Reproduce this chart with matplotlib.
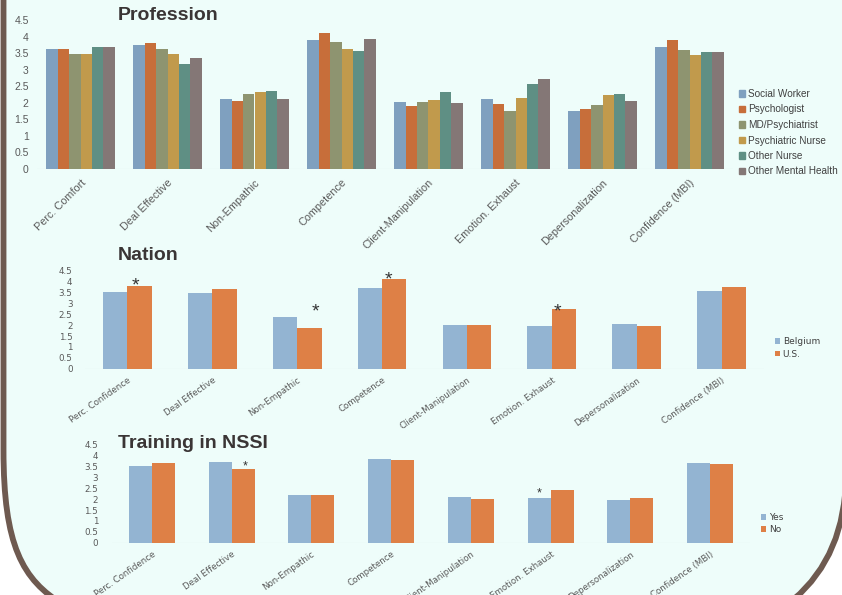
import matplotlib
matplotlib.use("Agg")
import matplotlib.pyplot as plt
from matplotlib.patches import Patch, PathPatch
from matplotlib.path import Path
import numpy as np

# ---------------- data ----------------
prof_categories = ["Perc. Comfort", "Deal Effective", "Non-Empathic", "Competence",
                   "Client-Manipulation", "Emotion. Exhaust", "Depersonalization",
                   "Confidence (MBI)"]
prof_series = ["Social Worker", "Psychologist", "MD/Psychiatrist",
               "Psychiatric Nurse", "Other Nurse", "Other Mental Health"]
social_worker = [3.61, 3.74, 2.11, 3.89, 2.03, 2.11, 1.74, 3.67]
psychologist = [3.63, 3.80, 2.05, 4.12, 1.89, 1.97, 1.80, 3.91]
md_psychiatrist = [3.46, 3.62, 2.26, 3.85, 2.03, 1.75, 1.92, 3.60]
psychiatric_nurse = [3.46, 3.48, 2.33, 3.61, 2.07, 2.15, 2.25, 3.45]
other_nurse = [3.69, 3.18, 2.35, 3.55, 2.32, 2.57, 2.28, 3.52]
other_mental_health = [3.67, 3.35, 2.11, 3.94, 1.99, 2.72, 2.06, 3.52]

grp_categories = ["Perc. Confidence", "Deal Effective", "Non-Empathic", "Competence",
                  "Client-Manipulation", "Emotion. Exhaust", "Depersonalization",
                  "Confidence (MBI)"]
belgium = [3.50, 3.47, 2.37, 3.69, 1.99, 1.96, 2.04, 3.58]
us = [3.79, 3.66, 1.88, 4.11, 2.02, 2.75, 1.94, 3.73]
training_yes = [3.55, 3.73, 2.20, 3.87, 2.09, 2.08, 1.95, 3.69]
training_no = [3.67, 3.38, 2.20, 3.81, 2.03, 2.41, 2.06, 3.61]

yticks = [0, 0.5, 1, 1.5, 2, 2.5, 3, 3.5, 4, 4.5]
ytick_labels = ["0", "0.5", "1", "1.5", "2", "2.5", "3", "3.5", "4", "4.5"]

# significance markers: (category index, x offset in category units, y value)
nation_stars = [(0, 0.09, 3.82), (2, 0.21, 2.62), (3, 0.07, 4.09), (5, 0.07, 2.62)]
training_stars = [(1, 0.17, 3.52), (5, -0.14, 2.25)]

# ---------------- style ----------------
W, H = 842, 595
bg = "#EEFDFA"
border = "#6E5A50"
prof_colors = ["#7FA0BF", "#C76E3A", "#8E9470", "#C19A4C", "#5F8F84", "#847776"]
c_blue = "#93B4D2"
c_orange = "#DE8046"
tick_col = "#595959"
title_col = "#3A3535"

fig = plt.figure(figsize=(W / 100, H / 100), dpi=100, facecolor="white")

# background shape with brown border
bgax = fig.add_axes([0, 0, 1, 1], zorder=-5)
bgax.set_xlim(0, W)
bgax.set_ylim(H, 0)
bgax.axis("off")
verts = [(3.5, -5), (3.5, 450), (3.5, 545), (22, 580), (64, 605),
         (780, 610), (838, 570), (845, 495), (850, -5), (3.5, -5)]
codes = [Path.MOVETO, Path.LINETO, Path.CURVE4, Path.CURVE4, Path.CURVE4,
         Path.LINETO, Path.CURVE3, Path.CURVE3, Path.LINETO, Path.CLOSEPOLY]
bgax.add_patch(PathPatch(Path(verts, codes), facecolor=bg, edgecolor="none"))
left_edge = Path([(3.5, -5), (3.5, 450), (3.5, 545), (22, 580), (64, 605)],
                 [Path.MOVETO, Path.LINETO, Path.CURVE4, Path.CURVE4, Path.CURVE4])
right_edge = Path([(780, 610), (838, 570), (845, 495)],
                  [Path.MOVETO, Path.CURVE3, Path.CURVE3])
for p in (left_edge, right_edge):
    bgax.add_patch(PathPatch(p, facecolor="none", edgecolor=border, lw=4.2,
                             capstyle="butt"))


def px_axes(left, top, right, bottom):
    ax = fig.add_axes([left / W, 1 - bottom / H, (right - left) / W, (bottom - top) / H])
    ax.set_facecolor("none")
    for s in ax.spines.values():
        s.set_visible(False)
    ax.set_ylim(0, 4.5)
    ax.set_xlim(-0.5, 7.5)
    ax.set_yticks(yticks)
    ax.axhline(0, color="#D9D9D9", lw=0.8, zorder=1)
    ax.tick_params(length=0)
    return ax


# ---------------- Profession ----------------
ax1 = px_axes(37, 20, 733, 169)
x = np.arange(len(prof_categories))
series = [social_worker, psychologist, md_psychiatrist, psychiatric_nurse,
          other_nurse, other_mental_health]
w = 0.79 / 6
for i, (vals, col, name) in enumerate(zip(series, prof_colors, prof_series)):
    ax1.bar(x + (i - 2.5) * w, vals, w, color=col, label=name, zorder=2)
ax1.set_yticklabels(ytick_labels, fontsize=7.5, color=tick_col, family="Liberation Sans")
ax1.tick_params(axis="y", pad=6)
ax1.set_xticks(x)
ax1.set_xticklabels(prof_categories, rotation=45, ha="right", va="top",
                    rotation_mode="anchor", fontsize=7.8, color=tick_col,
                    family="Liberation Sans")
ax1.tick_params(axis="x", pad=6)
handles = [Patch(color=c) for c in prof_colors]
ax1.legend(handles, prof_series, loc="upper left", bbox_to_anchor=(739 / W, 1 - 89 / H),
           bbox_transform=fig.transFigure, frameon=False,
           handlelength=0.58, handleheight=0.58, handletextpad=0.3, labelspacing=0.55,
           borderaxespad=0, borderpad=0,
           prop={"family": "Liberation Sans", "size": 7.2}, labelcolor="#404040")
fig.text(118 / W, 1 - 16 / H, "Profession", fontsize=14, fontweight="bold",
         family="Liberation Sans", color=title_col, va="center", ha="left")


def two_panel(ax, a, b, labels, stars, star_size, ylabel_pad, rot):
    xx = np.arange(len(grp_categories))
    bw = 0.287
    ax.bar(xx - bw / 2, a, bw, color=c_blue, label=labels[0], zorder=2)
    ax.bar(xx + bw / 2, b, bw, color=c_orange, label=labels[1], zorder=2)
    ax.set_yticklabels(ytick_labels, fontsize=6.3, color=tick_col, family="DejaVu Sans")
    ax.tick_params(axis="y", pad=ylabel_pad)
    ax.set_xticks(xx)
    ax.set_xticklabels(grp_categories, rotation=rot, ha="right", va="top",
                       rotation_mode="anchor", fontsize=6.2, color=tick_col,
                       family="DejaVu Sans")
    ax.tick_params(axis="x", pad=5)
    for ci, dx, yv in stars:
        ax.text(ci + dx, yv, "*", fontsize=star_size, ha="center", va="center",
                color="#333333", family="Liberation Sans", zorder=3)


# ---------------- Nation ----------------
ax2 = px_axes(85, 270.7, 764, 368.7)
two_panel(ax2, belgium, us, ["Belgium", "U.S."], nation_stars, 14, 9, 35)
ax2.legend(loc="upper left", bbox_to_anchor=(775 / W, 1 - 337 / H),
           bbox_transform=fig.transFigure, frameon=False,
           handlelength=0.55, handleheight=0.55, handletextpad=0.3, labelspacing=0.4,
           borderaxespad=0, borderpad=0,
           prop={"family": "DejaVu Sans", "size": 6.5}, labelcolor="#404040")
fig.text(118 / W, 1 - 256 / H, "Nation", fontsize=14, fontweight="bold",
         family="Liberation Sans", color=title_col, va="center", ha="left")

# ---------------- Training in NSSI ----------------
ax3 = px_axes(112, 445, 750, 542.7)
two_panel(ax3, training_yes, training_no, ["Yes", "No"], training_stars, 9, 10, 35)
ax3.legend(loc="upper left", bbox_to_anchor=(761 / W, 1 - 513 / H),
           bbox_transform=fig.transFigure, frameon=False,
           handlelength=0.55, handleheight=0.55, handletextpad=0.3, labelspacing=0.35,
           borderaxespad=0, borderpad=0,
           prop={"family": "DejaVu Sans", "size": 6.5}, labelcolor="#404040")
fig.text(118 / W, 1 - 443 / H, "Training in NSSI", fontsize=14, fontweight="bold",
         family="Liberation Sans", color=title_col, va="center", ha="left")

fig.savefig("out.png", dpi=100, facecolor="white")
